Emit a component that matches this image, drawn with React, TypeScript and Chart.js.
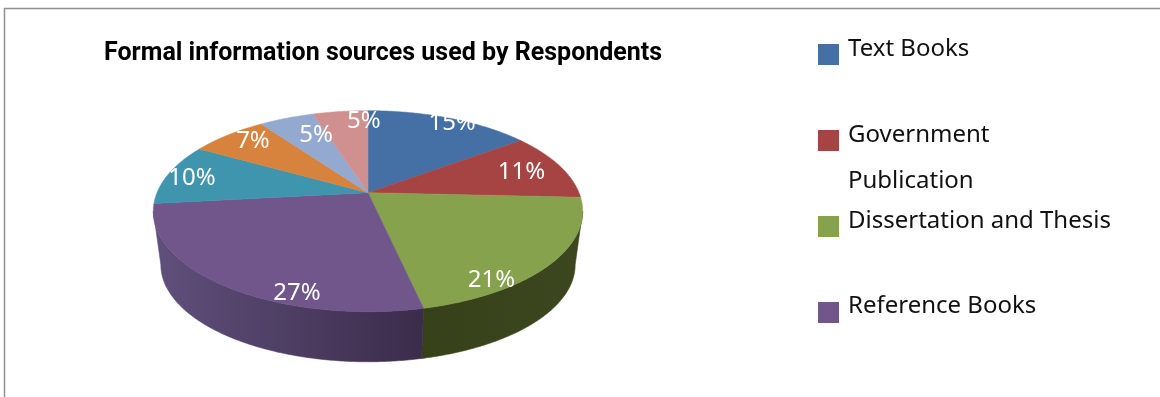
import React, { useEffect, useRef } from "react";
import { Chart, registerables } from "chart.js";

Chart.register(...registerables);

const chartTitle = "Formal information sources used by Respondents";
const categories = [
  "Text Books",
  "Government Publication",
  "Dissertation and Thesis",
  "Reference Books",
  "Encyclopedias",
  "Journals",
  "Reports",
  "Others",
];
const shares = [15, 11, 21, 27, 10, 7, 5, 5];
const sliceColors = ["#4570a6", "#a64444", "#87a24c", "#70568a", "#4095ae", "#d8833d", "#93a9cf", "#d09090"];

// Legend rows: only the first four categories are listed, Government Publication wraps.
const legendRows = [
  { swatch: 0, lines: ["Text Books"] },
  { swatch: 1, lines: ["Government", "Publication"] },
  { swatch: 2, lines: ["Dissertation and Thesis"] },
  { swatch: 3, lines: ["Reference Books"] },
];

// Radial placement of each percentage on the disc, with a turn from the slice's middle (degrees).
const labelRadius = [0.95, 0.79, 0.924, 0.913, 0.872, 0.844, 0.722, 0.855];
const labelTurn = [2.2, 0.4, 17, -17.6, -1.3, 2.4, 4.2, 7.4];

// Side wall shades (left to right) for the slices that face the viewer.
const wallShades: Record<number, [string, string]> = {
  2: ["#36411a", "#3c4720"],
  3: ["#60507c", "#3a2c4a"],
};

const TEXT_FONT = '"Noto Sans", sans-serif';
const TITLE_FONT = 'Roboto, "Noto Sans", sans-serif';
const PERSPECTIVE = 0.184;
const STRETCH_X = 1.095;
const TILT_Y = 0.504;
const BASE_SCALE = 0.965;
const BASE_DROP = 54.2;

type Pt = [number, number];

function project(arc: any, theta: number, radial: number, scale: number, drop: number): Pt {
  const u = Math.sin(theta) * radial;
  const v = -Math.cos(theta) * radial;
  const w = 1 - PERSPECTIVE * v;
  return [
    arc.x + (arc.outerRadius * STRETCH_X * scale * u) / w,
    arc.y + drop + (arc.outerRadius * TILT_Y * scale * v) / w,
  ];
}

function tracePoints(ctx: CanvasRenderingContext2D, pts: Pt[]) {
  ctx.beginPath();
  pts.forEach(([x, y], i) => (i ? ctx.lineTo(x, y) : ctx.moveTo(x, y)));
  ctx.closePath();
}

function arcPoints(arc: any, from: number, to: number, scale: number, drop: number): Pt[] {
  const steps = Math.max(2, Math.ceil((to - from) / 0.01));
  const pts: Pt[] = [];
  for (let i = 0; i <= steps; i++) {
    pts.push(project(arc, from + ((to - from) * i) / steps, 1, scale, drop));
  }
  return pts;
}

// Draws the pie as a tilted disc with a visible rim, using the angles Chart.js computed.
const tiltedPie = {
  id: "tiltedPie",
  beforeDatasetsDraw(chart: any) {
    const { ctx } = chart;
    const arcs = chart.getDatasetMeta(0).data;
    const quarter = Math.PI / 2;
    const frontStart = quarter + Math.asin(PERSPECTIVE);
    const frontEnd = 3 * quarter - Math.asin(PERSPECTIVE);

    ctx.save();
    arcs.forEach((arc: any, i: number) => {
      const shades = wallShades[i];
      if (!shades) return;
      const from = Math.max(arc.startAngle + quarter, frontStart);
      const to = Math.min(arc.endAngle + quarter, frontEnd);
      if (to <= from) return;
      const top = arcPoints(arc, from, to, 1, 0);
      const bottom = arcPoints(arc, from, to, BASE_SCALE, BASE_DROP).reverse();
      const pts = [...top, ...bottom];
      const xs = pts.map((p) => p[0]);
      const grad = ctx.createLinearGradient(Math.min(...xs), 0, Math.max(...xs), 0);
      grad.addColorStop(0, shades[0]);
      grad.addColorStop(1, shades[1]);
      tracePoints(ctx, pts);
      ctx.fillStyle = grad;
      ctx.strokeStyle = grad;
      ctx.lineWidth = 0.6;
      ctx.fill();
      ctx.stroke();
    });

    arcs.forEach((arc: any, i: number) => {
      const pts = arcPoints(arc, arc.startAngle + quarter, arc.endAngle + quarter, 1, 0);
      pts.unshift(project(arc, 0, 0, 1, 0));
      tracePoints(ctx, pts);
      ctx.fillStyle = sliceColors[i];
      ctx.strokeStyle = sliceColors[i];
      ctx.lineWidth = 0.5;
      ctx.fill();
      ctx.stroke();
    });

    ctx.fillStyle = "#ffffff";
    ctx.font = `24px ${TEXT_FONT}`;
    ctx.textAlign = "center";
    ctx.textBaseline = "middle";
    arcs.forEach((arc: any, i: number) => {
      const mid = (arc.startAngle + arc.endAngle) / 2 + quarter + (labelTurn[i] * Math.PI) / 180;
      const [x, y] = project(arc, mid, labelRadius[i], 1, 0);
      ctx.fillText(`${shares[i]}%`, x, y);
    });
    ctx.restore();
    return false;
  },
  afterDraw(chart: any) {
    const { ctx } = chart;
    ctx.save();

    // Frame around the figure, open on the right and at the bottom.
    ctx.strokeStyle = "#8f8f8f";
    ctx.lineWidth = 1.5;
    ctx.beginPath();
    ctx.moveTo(4.5, 397);
    ctx.lineTo(4.5, 8.5);
    ctx.lineTo(1160, 8.5);
    ctx.stroke();

    ctx.fillStyle = "#000000";
    ctx.textAlign = "left";
    ctx.textBaseline = "alphabetic";
    ctx.font = `bold 25px ${TITLE_FONT}`;
    ctx.fillText(chartTitle, 104, 60);

    const swatchTops = [44, 130, 216, 302];
    const baselines = [[55.7], [141.7, 187.7], [227.7], [313]];
    ctx.font = `24px ${TEXT_FONT}`;
    legendRows.forEach((row, i) => {
      ctx.fillStyle = sliceColors[row.swatch];
      ctx.fillRect(818, swatchTops[i], 21, 21);
      ctx.fillStyle = "#111111";
      row.lines.forEach((line, j) => ctx.fillText(line, 848, baselines[i][j]));
    });
    ctx.restore();
  },
};

export default function App() {
  const canvasRef = useRef<HTMLCanvasElement>(null);

  useEffect(() => {
    document.body.style.margin = "0";
    document.body.style.background = "#ffffff";
    const chart = new Chart(canvasRef.current as HTMLCanvasElement, {
      type: "pie",
      data: {
        labels: categories,
        datasets: [{ data: shares, backgroundColor: sliceColors, borderWidth: 0 }],
      },
      options: {
        animation: false,
        responsive: false,
        devicePixelRatio: 1,
        layout: { padding: { left: 0, right: 424, top: 0, bottom: 11.6 } },
        plugins: { legend: { display: false }, title: { display: false }, tooltip: { enabled: false } },
      },
      plugins: [tiltedPie],
    } as any);
    return () => chart.destroy();
  }, []);

  return <canvas ref={canvasRef} width={1160} height={397} style={{ display: "block" }} />;
}
